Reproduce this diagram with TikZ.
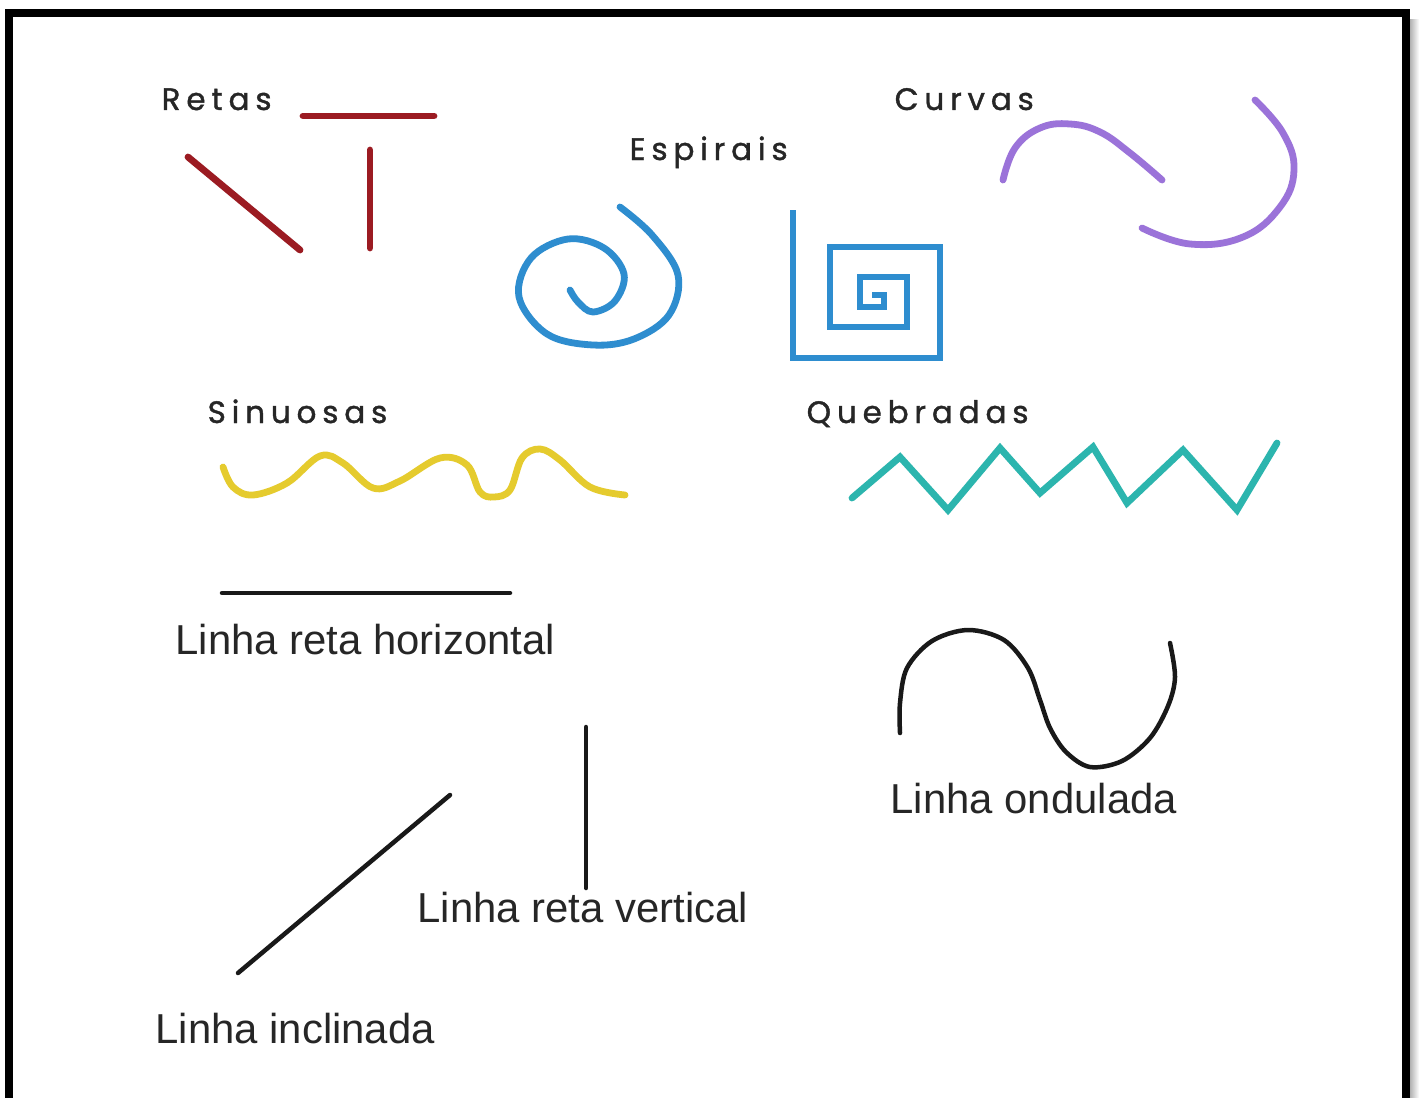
\documentclass[tikz,border=0pt]{standalone}
\usepackage{fontspec}
\setmainfont{Liberation Sans}
\newfontfamily\hdrfont[LetterSpace=19,FakeBold=1.3]{Poppins}
\definecolor{retared}{HTML}{9B1B22}
\definecolor{spblue}{HTML}{2E8DCF}
\definecolor{cvpurple}{HTML}{9B73D9}
\definecolor{snyellow}{HTML}{E5CB2E}
\definecolor{qbteal}{HTML}{2CB5AE}
\begin{document}
\begin{tikzpicture}[x=0.01cm,y=-0.01cm,
  hdr/.style={anchor=base west,inner sep=0pt,font=\hdrfont\fontsize{8.8pt}{10pt}\selectfont,text=black!85},
  lbl/.style={anchor=base west,inner sep=0pt,font=\fontsize{11.9pt}{14pt}\selectfont,text=black!85},
  colline/.style={line width=0.068cm,line cap=round,line join=round},
  blkline/.style={line width=0.045cm,line cap=round,line join=round,black!90}]
\useasboundingbox (0,0) rectangle (1419,1097);
\fill[white] (0,0) rectangle (1419,1097);
% frame with shadow
\shade[left color=gray!60,right color=white] (1410,20) rectangle (1419,1097);
\draw[line width=0.08cm] (9,1100) -- (9,13) -- (1406,13) -- (1406,1100);
% headers
\node[hdr] (retas) at (161,110) {Retas};
\node[hdr] (espirais) at (629,160) {Espirais};
\node[hdr] (curvas) at (894,110) {Curvas};
\node[hdr] (sinuosas) at (207,423) {Sinuosas};
\node[hdr] (quebradas) at (806,423) {Quebradas};
% retas
\draw[colline,retared] (303,116) -- (434,116);
\draw[colline,retared] (370,150) -- (370,248);
\draw[colline,retared] (188,157) -- (300,250);
% round spiral
\draw[colline,spblue] plot[smooth,tension=0.6] coordinates {(620,207) (652,235) (678,275) (669,315) (634,339) (593,345) (547,334) (519,297) (531,258) (568,239) (604,248) (624,274) (615,301) (593,312) (578,302) (570,290)};
% square spiral
\draw[colline,spblue,line cap=butt,line join=miter] (793,210) -- (793,358) -- (940,358) -- (940,247) -- (830,247) -- (830,327) -- (907,327) -- (907,277) -- (860,277) -- (860,307) -- (884,307) -- (884,295) -- (872,295);
% curvas
\draw[colline,cvpurple] plot[smooth,tension=0.7] coordinates {(1003,180) (1015,148) (1040,128) (1070,124) (1100,132) (1130,153) (1162,180)};
\draw[colline,cvpurple] plot[smooth,tension=0.7] coordinates {(1255,100) (1283,133) (1294,170) (1280,207) (1243,237) (1190,244) (1142,228)};
% sinuosas
\draw[colline,snyellow] plot[smooth,tension=0.6] coordinates {(223,467) (233,487) (253,495) (287,483) (320,456) (343,463) (373,488) (400,481) (440,458) (467,465) (480,492) (494,497) (510,490) (522,458) (540,449) (560,460) (590,487) (625,495)};
% quebradas
\draw[colline,qbteal,line cap=round,line join=miter] (852,498) -- (900,457) -- (948,510) -- (1000,448) -- (1040,493) -- (1093,447) -- (1127,503) -- (1183,450) -- (1237,510) -- (1277,443);
% black lines
\draw[blkline] (222,593) -- (510,593);
\node[lbl] (horiz) at (175,654) {Linha reta horizontal};
\draw[blkline] (586,727) -- (586,888);
\node[lbl] (vert) at (417,922) {Linha reta vertical};
\draw[blkline] (238,973) -- (450,795);
\node[lbl] (incl) at (155,1043) {Linha inclinada};
\draw[blkline] plot[smooth,tension=0.55] coordinates {(900,733) (900,703) (907,668) (932,641) (968,630) (1004,640) (1028,668) (1040,700) (1050,728) (1066,752) (1090,767) (1122,761) (1150,738) (1168,706) (1175,677) (1170,643)};
\node[lbl] (ond) at (890,813) {Linha ondulada};
\end{tikzpicture}
\end{document}
